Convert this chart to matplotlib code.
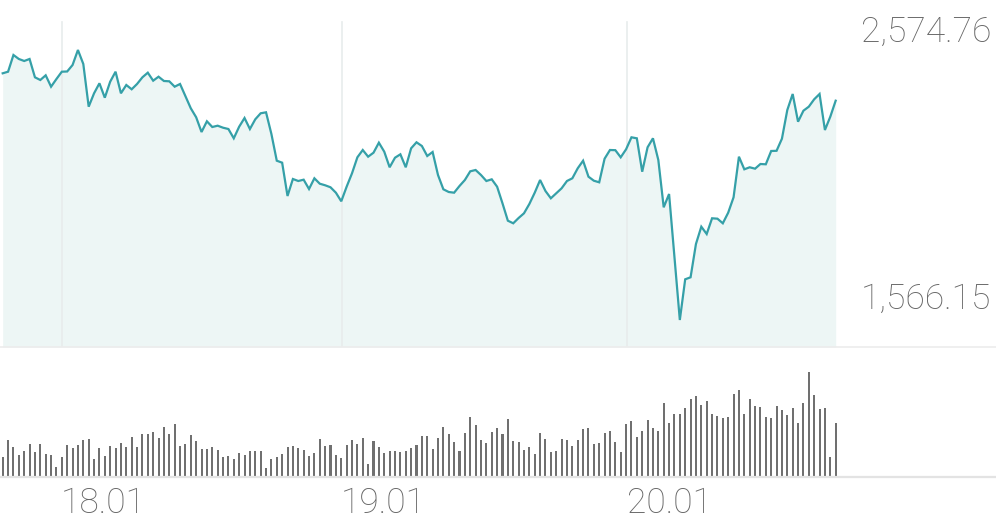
import matplotlib
matplotlib.use("Agg")
import matplotlib.pyplot as plt
import matplotlib.transforms as mtransforms
import numpy as np

# ---- data ----
prices = [
    2487.7, 2493.7, 2556.1, 2541.2, 2533.7, 2541.2, 2472.8, 2462.7, 2480.2, 2437.7,
    2466.4, 2493.7, 2494.5, 2518.7, 2574.76, 2522.5, 2363.0, 2413.0, 2450.4, 2396.6,
    2456.3, 2493.7, 2413.0, 2444.0, 2428.0, 2447.8,
    2472.8, 2490.0, 2460.1, 2475.0, 2459.0, 2457.8, 2437.7, 2447.8, 2402.9, 2357.0,
    2323.4, 2268.4, 2308.4, 2287.1, 2292.0, 2284.5, 2279.6, 2244.9, 2288.2, 2320.7,
    2279.6, 2315.9, 2338.3, 2342.0, 2261.0, 2161.2,
    2153.8, 2029.4, 2092.9, 2085.4, 2090.3, 2055.5, 2095.5, 2075.3, 2069.4, 2061.9,
    2041.7, 2009.6, 2064.1, 2114.2, 2173.9, 2201.2, 2176.2, 2191.1, 2228.5, 2194.9,
    2136.6, 2172.4, 2185.1, 2136.6, 2207.5, 2230.0,
    2216.2, 2178.8, 2193.7, 2107.8, 2054.4, 2044.3, 2041.7, 2066.7, 2089.1, 2121.6,
    2126.5, 2107.8, 2085.4, 2091.7, 2064.1, 2002.1, 1937.1, 1927.4, 1947.2, 1964.7,
    1999.5, 2041.7, 2089.1, 2048.0, 2020.8, 2039.4,
    2058.1, 2085.4, 2095.5, 2132.8, 2161.2, 2101.5, 2086.5, 2080.5, 2168.7, 2201.2,
    2200.5, 2173.9, 2203.8, 2248.6, 2244.9, 2120.1, 2211.3, 2244.9, 2163.8, 1987.1,
    2036.8, 1801.5, 1566.15, 1718.2, 1725.7,
    1850.1, 1914.7, 1887.4, 1946.1, 1944.6, 1927.4, 1967.0, 2024.5, 2176.2, 2129.1,
    2136.6, 2131.4, 2148.9, 2147.8, 2197.5, 2198.2, 2243.4, 2350.6, 2410.4, 2306.9,
    2348.0, 2363.0, 2390.6, 2410.4, 2275.9, 2325.6, 2385.4,
]

volumes = [
    58, 109, 88, 64, 77, 99, 75, 97, 68, 64,
    30, 58, 96, 85, 95, 111, 112, 52, 87, 61,
    93, 87, 100, 89, 119, 90, 127, 129, 133, 115,
    148, 127, 157, 93, 99, 124, 106, 84, 84, 90,
    79, 60, 61, 53, 72, 66, 76, 76, 76, 27,
    54, 60, 67, 90, 93, 85, 79, 61, 72, 112,
    91, 96, 64, 55, 94, 110, 98, 116, 38, 106,
    88, 70, 77, 78, 75, 77, 87, 96,
    122, 123, 84, 115, 148, 129, 103, 76,
    132, 180, 156, 110, 101, 133, 145, 128, 172, 107,
    104, 79, 88, 69, 130, 112, 74, 76, 112, 109,
    92, 110, 143, 145, 99, 101, 130, 137, 104, 74,
    157, 167, 118, 136, 170, 145, 138, 221, 160, 188,
    187, 206, 233, 241, 215, 227, 188, 183, 176, 178,
    247, 261, 188, 233, 213, 209, 178, 176, 212, 201,
    185, 206, 161, 222, 314, 246, 203, 205, 60, 160,
]

day_labels = ["18.01", "19.01", "20.01"]
day_index = [11.0, 63.1, 116.2]

price_max_label = "2,574.76"
price_min_label = "1,566.15"

# ---- figure ----
W, H = 996, 519
fig = plt.figure(figsize=(W / 100, H / 100), dpi=100)

x = np.arange(len(prices))
px_per_idx = 5.374
x_left = -2.7 / px_per_idx
x_right = x_left + W / px_per_idx

# top (price) panel: pixel rows 0..347
ax = fig.add_axes([0, 1 - 347 / H, 1, 347 / H])
ppx = (2574.76 - 1566.15) / 270.0
ylo = 1566.15 - 27 * ppx
yhi = 1566.15 + 320 * ppx
ax.set_xlim(x_left, x_right)
ax.set_ylim(ylo, yhi)

line_color = "#35a0a8"
ax.fill_between(x, prices, ylo, color="#edf6f5", lw=0, zorder=1)
for t in day_index:
    ax.axvline(t, ymin=0, ymax=(347 - 22) / 347, color="#e8ecec", lw=1.2, zorder=1.5)
ax.plot(x, prices, color=line_color, lw=1.6, zorder=3, solid_joinstyle="miter")

for s in ["top", "left", "right"]:
    ax.spines[s].set_visible(False)
ax.spines["bottom"].set_color("#ececec")
ax.spines["bottom"].set_linewidth(1.2)
ax.set_xticks([])
ax.set_yticks([])

# bottom (volume) panel: pixel rows 360..476.7
ax2 = fig.add_axes([0, 1 - 476.7 / H, 1, (476.7 - 360) / H])
ax2.set_xlim(x_left, x_right)
ax2.set_ylim(0, 350)
ax2.bar(x, volumes, width=0.38, color="#707070", lw=0)
for s in ["top", "left", "right"]:
    ax2.spines[s].set_visible(False)
ax2.spines["bottom"].set_color("#e3e3e3")
ax2.spines["bottom"].set_linewidth(1.6)
ax2.set_xticks([])
ax2.set_yticks([])

font = dict(family=["Roboto", "DejaVu Sans"], fontweight="light", color="#666666", fontsize=25.5)

trans = mtransforms.blended_transform_factory(ax2.transData, fig.transFigure)
for t, lab in zip(day_index, day_labels):
    ax2.text(t - 0.1, 1 - 513 / H, lab, transform=trans, ha="left", va="baseline", **font)

fig.text(991 / W, 1 - 42 / H, price_max_label, ha="right", va="baseline", **font)
fig.text(991 / W, 1 - 309 / H, price_min_label, ha="right", va="baseline", **font)

fig.savefig("out.png", dpi=100)
